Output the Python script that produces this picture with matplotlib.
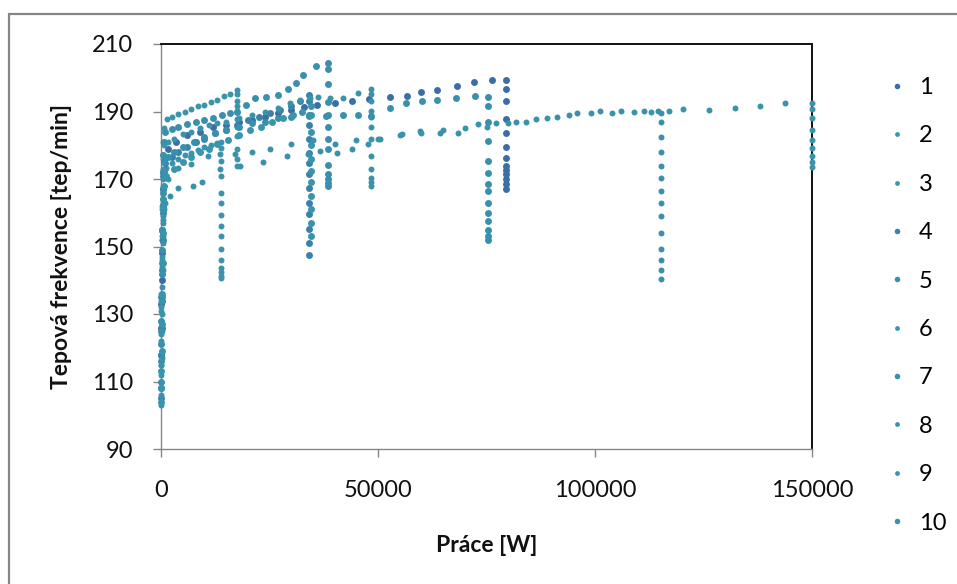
import matplotlib.pyplot as plt
from matplotlib.lines import Line2D
from matplotlib.patches import Rectangle

plt.rcParams['font.family'] = ['Lato', 'DejaVu Sans']

labels = ['1', '2', '3', '4', '5', '6', '7', '8', '9', '10']

# start of every test: work ~0, heart rate climbing
warm_x = [0, 40, 90, 140, 200, 270, 350, 430, 520, 620]

# series 1 (ends at ~79500 W)
s1_warm = [118, 126, 133, 140, 148, 155, 162, 167, 172, 176]
s1_x = [1500, 3500, 6000, 9000, 12000, 15000, 18000, 21000, 24000, 27000,
        30000, 33000, 36000, 40000, 44000, 48000, 52800, 56600, 60000,
        63700, 68100, 72100, 76200, 79600]
s1_y = [179, 181, 183, 184, 185.5, 186, 186.8, 187.5, 188.5, 189.5,
        190.5, 191.2, 191.8, 192.5, 193.2, 193.8, 194.4, 194.6, 195.8,
        196.4, 197.6, 198.8, 199.4, 199.4]
s1_end = 79500
s1_rec = [196.8, 193, 187.7, 183.5, 179.6, 176.2, 174, 172.7, 171.4, 169.9,
          168.4, 167.1]

# series 2 (ends at ~13900 W)
s2_warm = [128, 132, 136, 142, 147, 152, 158, 163, 167, 171]
s2_x = [1200, 2500, 4000, 5500, 7000, 8500, 10000, 11500, 13000, 13900]
s2_y = [173.4, 174.6, 176, 177, 177.8, 178.6, 179.4, 180, 180.6, 181]
s2_end = 13900
s2_rec = [179.3, 175.3, 171, 166, 163, 159.3, 156, 153, 149.4, 146.1, 143.5,
          142.3, 141.2, 140.8]

# series 3 (ends at ~17400 W)
s3_warm = [112, 121, 131, 142, 152, 162, 170, 176, 181, 185]
s3_x = [1300, 2500, 4000, 5500, 7000, 8500, 10000, 11500, 13000, 14500,
        16000, 17400]
s3_y = [187.9, 188.5, 189.3, 190, 190.8, 191.5, 192, 192.8, 193.5, 194.5,
        195.3, 196.5]
s3_end = 17400
s3_rec = [195.1, 193.2, 191.7, 190.2, 187.7, 185.3, 182.8, 178.8, 175.8, 173.9]

# series 4 (ends at ~34200 W)
s4_warm = [105, 110, 118, 126, 134, 143, 152, 160, 167, 172]
s4_x = [1000, 2500, 4000, 6000, 8000, 10000, 12500, 15000, 17500, 20000,
        22500, 25000, 27500, 30000, 32000, 34200]
s4_y = [174.6, 176.5, 178, 179.5, 181, 182, 183.5, 184.5, 186, 187.5,
        188.5, 189.5, 190.5, 191.5, 193, 195]
s4_end = 34200
s4_rec = [193.2, 188.9, 186, 181.8, 177.8, 174.7, 171.4, 167.4, 163, 159.5,
          155.3, 150.9, 147.6]

# series 5 (ends at ~38400 W)
s5_warm = [108, 116, 125, 135, 145, 155, 164, 172, 177, 181]
s5_x = [1000, 2500, 4000, 6000, 8000, 10000, 12000, 14000, 16000, 17500,
        19500, 21700, 24300, 27000, 29300, 31000, 32800, 35600, 38400]
s5_y = [184, 184.8, 185.5, 186.2, 187, 187.5, 188.2, 189, 189.6, 190,
        192, 194, 194.3, 194.8, 196.8, 198.5, 200.9, 203.4, 204.3]
s5_end = 38400
s5_rec = [202.6, 198.1, 192.7, 188.9, 185.3, 181.8, 178.8, 174.1, 171.4,
          169.9, 168.9, 167.9]

# series 6 (ends at ~48300 W)
s6_warm = [115, 124, 134, 144, 153, 161, 168, 173, 177, 180]
s6_x = [1500, 3000, 5000, 7000, 9000, 11000, 13000, 15000, 18000, 21000,
        24000, 27000, 29700, 32000, 34300, 36200, 38900, 41900, 45400, 48300]
s6_y = [181, 182, 183.3, 184, 185, 186, 186.5, 187, 188, 189,
        190, 191, 192.5, 193.5, 194, 194.3, 194, 194, 195.5, 196.8]
s6_end = 48300
s6_rec = [195.1, 193.2, 190.2, 188.5, 185.3, 181.8, 176.8, 172.9, 170.4,
          169.1, 167.9]

# series 7 (ends at ~75300 W)
s7_warm = [121, 128, 135, 142, 149, 155, 161, 166, 171, 175]
s7_x = [1500, 3000, 5000, 7500, 10000, 12500, 15000, 18000, 21000, 24000,
        27000, 30000, 34000, 38000, 42000, 45500, 48300, 52800, 56400, 60200,
        63700, 68000, 72300, 75300]
s7_y = [176.5, 178, 179.5, 181, 182.5, 183.5, 184.5, 185.5, 186.5, 187,
        188, 188.5, 188.8, 188.8, 189, 189, 188.8, 190.9, 192.4, 193,
        193.5, 194, 194.7, 194.3]
s7_end = 75300
s7_rec = [191.7, 187, 181.3, 175.3, 171.9, 168.4, 166.4, 163, 160, 157.5,
          155, 153, 151.8]

# series 8 (ends at ~115200 W)
s8_warm = [103, 106, 110, 117, 125, 134, 143, 151, 157, 161]
s8_x = [1000, 2000, 4000, 7400, 9400, 13600, 18200, 23600, 29000, 33900,
        36600, 40500, 43900, 47700, 50500, 55500, 59700, 64300, 68400, 73000,
        77300, 81900, 86500, 91200, 95800, 101100, 106100, 111400, 114600]
s8_y = [163, 165, 167.4, 167.9, 169.2, 172.9, 174, 174.9, 176.8, 177.4,
        178.3, 177.8, 178.8, 180.3, 181.8, 183.3, 184.3, 183.5, 183.5, 186.2,
        186.7, 186.9, 187.7, 188.5, 189.7, 190.2, 190.2, 190.2, 190.2]
s8_end = 115200
s8_rec = [189.5, 186.8, 182.5, 178, 173.8, 170.3, 166.4, 163, 159, 154,
          149.3, 146.1, 142.9, 140.4]

# series 9 (ends at 150000 W)
s9_warm = [110, 115, 122, 130, 138, 146, 153, 159, 164, 168]
s9_x = [1500, 4000, 7000, 10900, 13600, 17000, 21000, 25000, 30000, 35000,
        40000, 45000, 50000, 55000, 60000, 65000, 70000, 75000, 80000, 84000,
        89000, 94000, 99000, 104000, 109000, 113000, 117000, 120300, 126300,
        132200, 138100, 143800, 150000]
s9_y = [170, 173.4, 174.5, 176.8, 177.3, 177.5, 178, 179, 180.5, 181.5,
        180.5, 181.5, 182, 183, 183.5, 184.5, 185, 185.5, 186.5, 187,
        188, 189, 189.5, 189.7, 190, 189.8, 190.2, 190.7, 190.4,
        190.9, 191.5, 192.4, 192.5]
s9_end = 150000
s9_rec = [190.7, 188, 184.5, 181.6, 179.3, 176.8, 175, 173.6]

# series 10 (ends at ~34600 W)
s10_warm = [104, 108, 113, 119, 127, 136, 145, 154, 162, 168]
s10_x = [1200, 3000, 5000, 7000, 9000, 11000, 13000, 15500, 18000, 20500,
         23000, 25500, 28000, 30500, 32500, 34600]
s10_y = [171, 173, 175, 176.5, 178, 179, 180.5, 181.5, 183, 184.5,
         185.5, 187, 188, 189, 190, 191.5]
s10_end = 34600
s10_rec = [189, 184, 180, 176, 172.5, 169, 165, 161, 157, 153]

x_ticks = [0, 50000, 100000, 150000]
y_ticks = [90, 110, 130, 150, 170, 190, 210]

series = [
    (s1_warm, s1_x, s1_y, s1_end, s1_rec),
    (s2_warm, s2_x, s2_y, s2_end, s2_rec),
    (s3_warm, s3_x, s3_y, s3_end, s3_rec),
    (s4_warm, s4_x, s4_y, s4_end, s4_rec),
    (s5_warm, s5_x, s5_y, s5_end, s5_rec),
    (s6_warm, s6_x, s6_y, s6_end, s6_rec),
    (s7_warm, s7_x, s7_y, s7_end, s7_rec),
    (s8_warm, s8_x, s8_y, s8_end, s8_rec),
    (s9_warm, s9_x, s9_y, s9_end, s9_rec),
    (s10_warm, s10_x, s10_y, s10_end, s10_rec),
]

colors = ['#3b6ea5', '#3b93ad', '#3a95ab', '#3a82aa', '#3a8fae',
          '#3a92ab', '#3890ad', '#3b90ab', '#3a93ab', '#3994ae']
sizes = [5.0, 4.3, 4.3, 5.0, 5.0, 4.3, 5.0, 4.3, 4.3, 5.0]


def main():
    fig = plt.figure(figsize=(9.57, 5.84), dpi=100)
    ax = fig.add_axes([161 / 957, 1 - 449 / 584, 651 / 957, 405 / 584])

    # grey chart-area border (only top and left are inside the picture)
    fig.add_artist(Rectangle((9 / 957, -0.2), 1.5, 1.2 - 14 / 584,
                             transform=fig.transFigure, fill=False,
                             edgecolor='#868686', linewidth=1.6))

    handles = []
    for i, (warm, xs, ys, end, rec) in enumerate(series):
        px = warm_x + xs + [end] * len(rec)
        py = warm + ys + rec
        ax.plot(px, py, linestyle='none', marker='o', ms=sizes[i],
                mew=0, color=colors[i], clip_on=False, zorder=3)
        handles.append(Line2D([], [], linestyle='none', marker='o',
                              ms=sizes[i] * 0.8, mew=0, color=colors[i]))

    ax.set_xlim(0, 150000)
    ax.set_ylim(90, 210)
    ax.set_xticks(x_ticks)
    ax.set_yticks(y_ticks)
    ax.set_xticklabels([str(v) for v in x_ticks])

    for side in ['left', 'bottom']:
        ax.spines[side].set_color('#868686')
        ax.spines[side].set_linewidth(1.0)
    for side in ['top', 'right']:
        ax.spines[side].set_color('#111111')
        ax.spines[side].set_linewidth(1.4)

    ax.tick_params(axis='both', direction='out', length=6, width=1,
                   color='#868686', labelsize=17, labelcolor='#111111')
    ax.tick_params(axis='y', pad=14)
    ax.tick_params(axis='x', pad=16)

    ax.set_xlabel('Práce [W]', fontsize=16.5, fontweight='bold',
                  color='#111111', labelpad=25)
    ax.set_ylabel('Tepová frekvence [tep/min]', fontsize=16.5,
                  fontweight='bold', color='#111111', labelpad=14)

    fig.legend(handles, labels, loc='upper left',
               bbox_to_anchor=(888 / 957, 1 - 77 / 584), frameon=False,
               fontsize=17, labelspacing=1.16, handlelength=0.8,
               handletextpad=0.5, borderaxespad=0, borderpad=0)

    fig.savefig('out.png', dpi=100, facecolor='white')


if __name__ == "__main__":
    main()
